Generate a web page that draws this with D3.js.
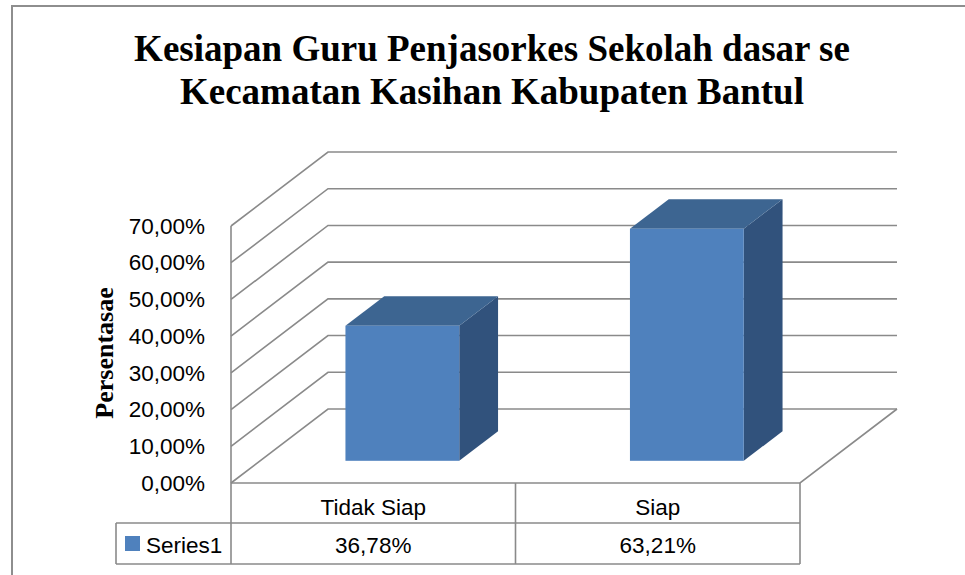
<!DOCTYPE html>
<html>
<head>
<meta charset="utf-8">
<script src="https://cdn.jsdelivr.net/npm/d3@7"></script>
<style>
  html, body { margin: 0; padding: 0; background: #fff; }
  svg { display: block; }
</style>
</head>
<body>
<svg id="chart" width="965" height="575"></svg>
<script>
const categories = ["Tidak Siap", "Siap"];
const seriesName = "Series1";
const values = [0.3678, 0.6321];
const valueLabels = ["36,78%", "63,21%"];
const yTicks = [0, 0.1, 0.2, 0.3, 0.4, 0.5, 0.6, 0.7];
const titleLines = ["Kesiapan Guru Penjasorkes Sekolah dasar se", "Kecamatan Kasihan Kabupaten Bantul"];
const yTitle = "Persentasae";

const svg = d3.select("#chart");
const W = 965, H = 575;

// layout
const frontLeft = 231, frontRight = 800;
const floorY = 483;
const depthDX = 97, depthDY = -74;
const gridColor = "#8a8a8a";

const y = d3.scaleLinear().domain([0, 0.7]).range([floorY, 226]);
const xBar = d3.scaleBand().domain(categories).range([frontLeft, frontRight]).paddingInner(0.6).paddingOuter(0.3);
const xCat = d3.scaleBand().domain(categories).range([frontLeft, frontRight]).padding(0);

const proj = (x, v, d) => [x + d * depthDX, y(v) + d * depthDY];

// outer border
svg.append("rect").attr("x", 12).attr("y", 6).attr("width", W + 10).attr("height", H + 10)
  .attr("fill", "none").attr("stroke", "#8e8e8e").attr("stroke-width", 2);

// title
const title = svg.append("text").attr("text-anchor", "middle")
  .attr("font-family", "'Liberation Serif', 'Times New Roman', serif")
  .attr("font-weight", "bold").attr("font-size", 37).attr("fill", "#000");
titleLines.forEach((t, i) => {
  title.append("tspan").attr("x", 492).attr("y", 61 + i * 43).text(t);
});

// walls: side wall diagonals and back gridlines
const grid = svg.append("g").attr("fill", "none").attr("stroke", gridColor).attr("stroke-width", 1.6);
yTicks.forEach(v => {
  const p0 = proj(frontLeft, v, 0), p1 = proj(frontLeft, v, 1), p2 = proj(frontRight, v, 1);
  grid.append("path").attr("d", d3.line()([p0, p1, p2]));
});
// front-left vertical edge
grid.append("line").attr("x1", frontLeft).attr("x2", frontLeft).attr("y1", y(0.7)).attr("y2", floorY);
// floor
{
  const a = proj(frontLeft, 0, 0), b = proj(frontRight, 0, 0), c = proj(frontRight, 0, 1);
  grid.append("path").attr("d", d3.line()([a, b, c]));
}

// y axis labels
const yAxis = d3.axisLeft(y).tickValues(yTicks).tickSize(0).tickPadding(26)
  .tickFormat(d => (d * 100).toFixed(2).replace(".", ",") + "%");
const ya = svg.append("g").attr("transform", `translate(${frontLeft},0)`).call(yAxis);
ya.select(".domain").remove();
ya.selectAll("text").attr("font-family", "'Liberation Sans', Arial, sans-serif")
  .attr("font-size", 22.5).attr("fill", "#000");

// y title
svg.append("text").attr("transform", "translate(113,353) rotate(-90)")
  .attr("text-anchor", "middle")
  .attr("font-family", "'Liberation Serif', 'Times New Roman', serif")
  .attr("font-weight", "bold").attr("font-size", 26).attr("fill", "#000").text(yTitle);

// bars
const dFront = 0.3, dBack = 0.7;
const bars = svg.append("g");
categories.forEach((c, i) => {
  const v = values[i];
  const x0 = xBar(c), x1 = xBar(c) + xBar.bandwidth();
  const g = bars.append("g");
  // side
  g.append("path").attr("fill", "#31527c").attr("d", d3.line()([
    proj(x1, 0, dFront), proj(x1, 0, dBack), proj(x1, v, dBack), proj(x1, v, dFront)
  ]) + "Z");
  // top
  g.append("path").attr("fill", "#3d6591").attr("d", d3.line()([
    proj(x0, v, dFront), proj(x1, v, dFront), proj(x1, v, dBack), proj(x0, v, dBack)
  ]) + "Z");
  // front
  const a = proj(x0, v, dFront), b = proj(x1, 0, dFront);
  g.append("rect").attr("x", a[0]).attr("y", a[1]).attr("width", b[0] - a[0]).attr("height", b[1] - a[1])
    .attr("fill", "#4f81bd");
});

// data table
const tTop = floorY, tMid = 523, tBot = 564, legLeft = 116;
const tbl = svg.append("g").attr("stroke", gridColor).attr("stroke-width", 1.6).attr("fill", "none");
tbl.append("line").attr("x1", legLeft).attr("x2", frontRight).attr("y1", tMid).attr("y2", tMid);
tbl.append("line").attr("x1", legLeft).attr("x2", frontRight).attr("y1", tBot).attr("y2", tBot);
tbl.append("line").attr("x1", legLeft).attr("x2", legLeft).attr("y1", tMid).attr("y2", tBot);
categories.forEach(c => {
  tbl.append("line").attr("x1", xCat(c)).attr("x2", xCat(c)).attr("y1", tTop).attr("y2", tBot);
});
tbl.append("line").attr("x1", frontRight).attr("x2", frontRight).attr("y1", tTop).attr("y2", tBot);

const tf = "'Liberation Sans', Arial, sans-serif";
categories.forEach((c, i) => {
  const cx = xCat(c) + xCat.bandwidth() / 2;
  svg.append("text").attr("x", cx).attr("y", 515).attr("text-anchor", "middle")
    .attr("font-family", tf).attr("font-size", 22.5).attr("fill", "#000").text(c);
  svg.append("text").attr("x", cx).attr("y", 553).attr("text-anchor", "middle")
    .attr("font-family", tf).attr("font-size", 22.5).attr("fill", "#000").text(valueLabels[i]);
});
svg.append("rect").attr("x", 125).attr("y", 536).attr("width", 15).attr("height", 15).attr("fill", "#4f81bd");
svg.append("text").attr("x", 146).attr("y", 553).attr("font-family", tf).attr("font-size", 22.5)
  .attr("fill", "#000").text(seriesName);
</script>
</body>
</html>
